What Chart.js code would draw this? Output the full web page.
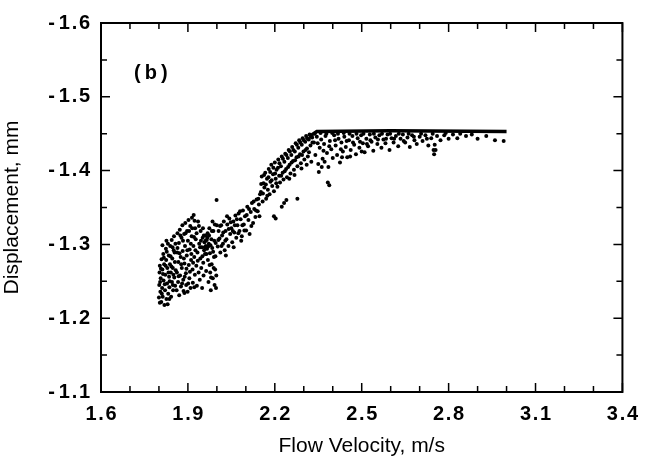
<!DOCTYPE html>
<html>
<head>
<meta charset="utf-8">
<script src="https://cdn.jsdelivr.net/npm/chart.js@4/dist/chart.umd.min.js"></script>
<style>
  body { margin: 0; background: #fff; }
</style>
</head>
<body>
<canvas id="chart" width="648" height="469"></canvas>
<script>
// tick values
const xMajor = [1.6, 1.9, 2.2, 2.5, 2.8, 3.1, 3.4];
const xMinor = [1.7, 1.8, 2.0, 2.1, 2.3, 2.4, 2.6, 2.7, 2.9, 3.0, 3.2, 3.3];
const yMajor = [-1.6, -1.5, -1.4, -1.3, -1.2, -1.1];
const yMinor = [-1.55, -1.45, -1.35, -1.25, -1.15];

// points: [velocity m/s, displacement mm]
const lobeA = [
  [1.800,-1.228],[1.801,-1.245],[1.802,-1.262],[1.803,-1.271],[1.805,-1.236],[1.806,-1.254],
  [1.808,-1.222],[1.809,-1.280],[1.811,-1.241],[1.812,-1.266],[1.813,-1.229],[1.815,-1.287],
  [1.816,-1.251],[1.818,-1.273],[1.819,-1.218],[1.821,-1.238],[1.822,-1.259],[1.824,-1.294],
  [1.825,-1.279],[1.826,-1.226],[1.828,-1.247],[1.829,-1.268],[1.831,-1.301],[1.832,-1.233],
  [1.834,-1.285],[1.835,-1.256],[1.836,-1.242],[1.838,-1.273],[1.839,-1.298],[1.841,-1.262],
  [1.842,-1.229],[1.844,-1.306],[1.845,-1.249],[1.846,-1.281],[1.848,-1.268],[1.849,-1.238],
  [1.851,-1.292],[1.852,-1.311],[1.853,-1.255],[1.855,-1.276],[1.856,-1.244],[1.857,-1.301],
  [1.804,-1.249],[1.807,-1.267],[1.803,-1.221],[1.810,-1.233],[1.814,-1.260],[1.817,-1.282],
  [1.820,-1.246],[1.823,-1.271],[1.827,-1.290],[1.830,-1.219],[1.833,-1.262],[1.837,-1.250],
  [1.840,-1.284],[1.843,-1.270],[1.847,-1.296],[1.850,-1.259],[1.854,-1.289],[1.858,-1.265],
  [1.812,-1.299],[1.826,-1.305],[1.836,-1.226],[1.848,-1.245]
];
const lobeB = [
  [1.861,-1.238],[1.862,-1.262],[1.863,-1.289],[1.864,-1.315],[1.866,-1.249],[1.867,-1.276],
  [1.869,-1.302],[1.870,-1.231],[1.872,-1.320],[1.873,-1.258],[1.875,-1.283],[1.876,-1.243],
  [1.878,-1.309],[1.879,-1.268],[1.881,-1.326],[1.882,-1.291],[1.884,-1.252],[1.885,-1.237],
  [1.887,-1.314],[1.888,-1.274],[1.890,-1.298],[1.891,-1.329],[1.893,-1.261],[1.894,-1.245],
  [1.896,-1.285],[1.897,-1.318],[1.899,-1.236],[1.900,-1.305],[1.902,-1.333],[1.903,-1.272],
  [1.905,-1.254],[1.906,-1.293],[1.908,-1.325],[1.909,-1.241],[1.911,-1.279],[1.913,-1.311],
  [1.914,-1.336],[1.916,-1.266],[1.917,-1.248],[1.919,-1.298],[1.920,-1.340],[1.922,-1.283],
  [1.924,-1.259],[1.925,-1.322],[1.927,-1.307],[1.929,-1.271],[1.931,-1.244],[1.933,-1.289],
  [1.935,-1.331],[1.937,-1.262],[1.939,-1.301],
  [1.864,-1.295],[1.868,-1.257],[1.871,-1.288],[1.874,-1.312],[1.877,-1.273],[1.880,-1.247],
  [1.883,-1.305],[1.886,-1.281],[1.889,-1.256],[1.892,-1.315],[1.895,-1.267],[1.898,-1.292],
  [1.901,-1.247],[1.904,-1.318],[1.907,-1.263],[1.910,-1.301],[1.912,-1.287],[1.915,-1.322],
  [1.918,-1.275],[1.921,-1.310],[1.923,-1.332],[1.926,-1.292],[1.930,-1.315],[1.934,-1.278],
  [1.938,-1.325],[1.922,-1.242],[1.888,-1.234]
];
const lobeC = [
  [1.941,-1.252],[1.943,-1.281],[1.944,-1.318],[1.946,-1.268],[1.948,-1.296],[1.949,-1.241],
  [1.951,-1.309],[1.953,-1.275],[1.954,-1.258],[1.956,-1.292],[1.957,-1.303],[1.959,-1.287],
  [1.960,-1.312],[1.962,-1.298],[1.963,-1.264],[1.965,-1.306],[1.966,-1.294],[1.968,-1.315],
  [1.969,-1.279],[1.971,-1.249],[1.972,-1.301],[1.974,-1.322],[1.976,-1.288],[1.977,-1.262],
  [1.979,-1.238],[1.981,-1.307],[1.982,-1.273],[1.984,-1.295],[1.986,-1.254],[1.988,-1.318],
  [1.990,-1.283],[1.992,-1.245],[1.994,-1.266],[1.996,-1.302],[1.998,-1.258],[2.000,-1.326],
  [1.999,-1.360],
  [1.942,-1.296],[1.945,-1.305],[1.950,-1.284],[1.952,-1.322],[1.955,-1.312],[1.958,-1.296],
  [1.961,-1.305],[1.964,-1.287],[1.967,-1.309],[1.970,-1.297],[1.973,-1.312],[1.975,-1.272],
  [1.978,-1.299],[1.980,-1.255],[1.983,-1.318],[1.987,-1.290],[1.989,-1.268],[1.991,-1.305],
  [1.995,-1.284],[1.997,-1.241],[1.993,-1.327],[1.985,-1.331]
];
const bandD = [
  [2.003,-1.297],[2.006,-1.318],[2.009,-1.308],[2.012,-1.289],[2.015,-1.326],[2.018,-1.312],
  [2.021,-1.301],[2.024,-1.331],[2.027,-1.292],[2.030,-1.318],[2.033,-1.307],[2.036,-1.327],
  [2.040,-1.298],[2.043,-1.335],[2.046,-1.314],[2.050,-1.322],[2.053,-1.303],[2.057,-1.331],
  [2.060,-1.316],[2.064,-1.339],[2.067,-1.309],[2.071,-1.326],[2.075,-1.342],[2.078,-1.318],
  [2.082,-1.334],[2.086,-1.311],[2.090,-1.346],[2.093,-1.327],[2.097,-1.338],[2.101,-1.319],
  [2.105,-1.351],[2.109,-1.333],[2.113,-1.314],[2.117,-1.344],[2.121,-1.356],[2.125,-1.329],
  [2.129,-1.348],[2.133,-1.337],[2.137,-1.361],[2.141,-1.345],[2.145,-1.354],[2.149,-1.368],
  [2.005,-1.306],[2.011,-1.325],[2.016,-1.298],[2.022,-1.316],[2.029,-1.305],[2.035,-1.338],
  [2.041,-1.321],[2.048,-1.330],[2.055,-1.318],[2.062,-1.326],[2.069,-1.334],[2.074,-1.315],
  [2.080,-1.345],[2.088,-1.326],[2.095,-1.319],[2.103,-1.340],[2.111,-1.348],[2.119,-1.325],
  [2.127,-1.358],[2.135,-1.346],[2.143,-1.362],[2.147,-1.338],[2.031,-1.285],[2.058,-1.296],
  [2.084,-1.305]
];
const bandE = [
  [2.152,-1.371],[2.155,-1.392],[2.158,-1.358],[2.161,-1.383],[2.164,-1.377],[2.167,-1.397],
  [2.170,-1.362],[2.173,-1.389],[2.176,-1.374],[2.179,-1.402],[2.182,-1.368],[2.185,-1.385],
  [2.188,-1.408],[2.191,-1.379],[2.194,-1.395],[2.197,-1.372],[2.200,-1.411],[2.203,-1.389],
  [2.206,-1.401],[2.209,-1.378],[2.212,-1.415],[2.215,-1.393],[2.218,-1.384],[2.221,-1.406],
  [2.224,-1.419],[2.227,-1.397],[2.230,-1.388],[2.233,-1.412],[2.236,-1.423],[2.239,-1.402],
  [2.242,-1.391],[2.245,-1.417],[2.248,-1.428],[2.251,-1.408],[2.254,-1.396],[2.257,-1.421],
  [2.260,-1.432],[2.263,-1.413],[2.266,-1.401],[2.269,-1.426],[2.272,-1.437],[2.275,-1.418],
  [2.278,-1.406],[2.281,-1.431],[2.284,-1.441],[2.287,-1.422],[2.290,-1.410],[2.293,-1.435],
  [2.296,-1.444],[2.299,-1.426],[2.302,-1.415],[2.305,-1.439],[2.308,-1.447],[2.311,-1.430],
  [2.314,-1.419],[2.317,-1.442],[2.320,-1.449],[2.323,-1.434],[2.326,-1.412],[2.329,-1.445],
  [2.153,-1.382],[2.159,-1.369],[2.163,-1.394],[2.169,-1.381],[2.174,-1.366],[2.178,-1.391],
  [2.184,-1.398],[2.189,-1.387],[2.195,-1.404],[2.201,-1.396],[2.205,-1.383],[2.211,-1.404],
  [2.216,-1.410],[2.222,-1.393],[2.228,-1.416],[2.234,-1.399],[2.240,-1.421],[2.246,-1.405],
  [2.252,-1.426],[2.258,-1.411],[2.264,-1.428],[2.270,-1.414],[2.276,-1.435],[2.282,-1.419],
  [2.288,-1.438],[2.294,-1.421],[2.300,-1.441],[2.306,-1.428],[2.312,-1.444],[2.318,-1.425],
  [2.324,-1.446],[2.330,-1.438],[2.250,-1.389],[2.268,-1.394],[2.292,-1.403],[2.310,-1.408]
];
const strays = [
  [2.197,-1.338],[2.203,-1.335],[2.224,-1.351],[2.232,-1.356],[2.240,-1.360],[2.278,-1.362],
  [2.383,-1.384],[2.388,-1.380]
];
const plateau = [
  [2.335,-1.438],[2.340,-1.421],[2.345,-1.446],[2.350,-1.409],[2.355,-1.431],[2.360,-1.442],
  [2.365,-1.416],[2.370,-1.436],[2.375,-1.447],[2.380,-1.424],[2.385,-1.405],[2.390,-1.440],
  [2.395,-1.429],[2.400,-1.417],[2.405,-1.448],[2.410,-1.434],[2.415,-1.421],[2.420,-1.443],
  [2.425,-1.411],[2.430,-1.438],[2.435,-1.426],[2.440,-1.446],[2.445,-1.432],[2.450,-1.418],
  [2.456,-1.441],[2.462,-1.428],[2.468,-1.447],[2.474,-1.435],[2.480,-1.422],[2.486,-1.444],
  [2.492,-1.431],[2.498,-1.448],[2.504,-1.437],[2.510,-1.425],[2.516,-1.443],[2.522,-1.433],
  [2.528,-1.449],[2.534,-1.439],[2.540,-1.427],[2.547,-1.445],[2.554,-1.436],[2.561,-1.448],
  [2.568,-1.431],[2.575,-1.442],[2.582,-1.437],[2.589,-1.449],[2.596,-1.428],[2.603,-1.444],
  [2.610,-1.438],[2.618,-1.447],[2.626,-1.433],[2.634,-1.443],[2.642,-1.449],[2.650,-1.438],
  [2.658,-1.445],[2.666,-1.432],[2.674,-1.448],[2.682,-1.441],[2.690,-1.436],[2.700,-1.446],
  [2.710,-1.440],[2.720,-1.448],[2.730,-1.434],[2.740,-1.444],[2.748,-1.428],[2.750,-1.422],
  [2.752,-1.435],[2.760,-1.447],[2.772,-1.441],[2.785,-1.448],[2.800,-1.443],[2.815,-1.449],
  [2.830,-1.444],[2.860,-1.447],[2.900,-1.443],[2.930,-1.447],[2.960,-1.441],[2.990,-1.440],
  [2.338,-1.450],[2.348,-1.437],[2.358,-1.451],[2.368,-1.427],[2.378,-1.450],[2.388,-1.433],
  [2.398,-1.451],[2.408,-1.441],[2.418,-1.450],[2.428,-1.429],[2.438,-1.451],[2.448,-1.440],
  [2.458,-1.450],[2.470,-1.438],[2.482,-1.450],[2.494,-1.439],[2.506,-1.450],[2.518,-1.436],
  [2.530,-1.441],[2.542,-1.450],[2.556,-1.442],[2.570,-1.450],[2.584,-1.443],[2.598,-1.450],
  [2.612,-1.443],[2.628,-1.450],[2.645,-1.440],[2.662,-1.450],[2.680,-1.446],[2.705,-1.450],
  [2.725,-1.443],[2.745,-1.450],[2.755,-1.428],[2.790,-1.451],[2.840,-1.450],[2.880,-1.449],
  [2.352,-1.398],[2.362,-1.405],[2.372,-1.412],[2.432,-1.418],[2.460,-1.419],[2.500,-1.426]
];
// the upper limit the response saturates at
const ceiling = [[2.322,-1.447],[2.345,-1.453],[2.600,-1.454],[3.000,-1.453]];

const label = { text: '(\u2009b\u2009)', v: 1.772, d: -1.531 };

function toXY(pts) {
  return pts.map(p => ({ x: p[0], y: p[1] }));
}

const dotSet = (pts) => ({
  data: toXY(pts),
  pointRadius: 2,
  pointBackgroundColor: '#000',
  pointBorderWidth: 0,
  showLine: false
});

const frameTicks = {
  id: 'frameTicks',
  afterDraw(chart) {
    const { ctx, chartArea: a, scales: { x, y } } = chart;
    ctx.save();
    ctx.strokeStyle = '#000';
    ctx.lineWidth = 2;
    ctx.strokeRect(a.left, a.top, a.right - a.left, a.bottom - a.top);
    ctx.lineWidth = 1.5;
    ctx.beginPath();
    const xt = (v, len) => {
      const px = x.getPixelForValue(v);
      ctx.moveTo(px, a.bottom); ctx.lineTo(px, a.bottom - len);
      ctx.moveTo(px, a.top); ctx.lineTo(px, a.top + len);
    };
    const yt = (v, len) => {
      const py = y.getPixelForValue(v);
      ctx.moveTo(a.left, py); ctx.lineTo(a.left + len, py);
      ctx.moveTo(a.right, py); ctx.lineTo(a.right - len, py);
    };
    xMajor.forEach(v => xt(v, 9));
    xMinor.forEach(v => xt(v, 6));
    yMajor.forEach(v => yt(v, 9));
    yMinor.forEach(v => yt(v, 6));
    ctx.stroke();

    ctx.fillStyle = '#000';
    ctx.font = 'bold 20px "Liberation Sans", Arial, sans-serif';
    ctx.textAlign = 'center';
    ctx.textBaseline = 'middle';
    ctx.fillText(label.text, x.getPixelForValue(label.v), y.getPixelForValue(label.d));
    ctx.restore();
  }
};

const font = { family: '"Liberation Sans", Arial, sans-serif', size: 20 };
const tickFont = { ...font, weight: 'bold' };

new Chart(document.getElementById('chart'), {
  type: 'scatter',
  data: {
    datasets: [
      dotSet(lobeA), dotSet(lobeB), dotSet(lobeC), dotSet(bandD),
      dotSet(bandE), dotSet(strays), dotSet(plateau),
      {
        type: 'line',
        data: toXY(ceiling),
        borderColor: '#000',
        borderWidth: 3.5,
        pointRadius: 0,
        tension: 0
      }
    ]
  },
  options: {
    responsive: false,
    animation: false,
    layout: { padding: { top: 10, right: 25, left: 0, bottom: 0 } },
    plugins: { legend: { display: false }, tooltip: { enabled: false } },
    scales: {
      x: {
        type: 'linear',
        min: 1.6, max: 3.4,
        afterBuildTicks: s => { s.ticks = xMajor.map(v => ({ value: v })); },
        afterFit: s => { s.height = 77; },
        grid: { display: false, drawTicks: false },
        border: { display: false },
        ticks: {
          color: '#000', font: tickFont, padding: 10,
          callback: v => v.toFixed(1).replace('.', '\u200A.\u200A')
        },
        title: {
          display: true, text: 'Flow Velocity, m/s', color: '#000',
          font: { ...font, size: 21 }, padding: { top: 0, bottom: 10 }
        }
      },
      y: {
        type: 'linear',
        reverse: true,
        min: -1.6, max: -1.1,
        afterBuildTicks: s => { s.ticks = yMajor.map(v => ({ value: v })); },
        afterFit: s => { s.width = 101; },
        grid: { display: false, drawTicks: false },
        border: { display: false },
        ticks: {
          color: '#000', font: tickFont, padding: 11,
          callback: v => '-\u2009' + Math.abs(v).toFixed(1).replace('.', '\u200A.\u200A')
        },
        title: {
          display: true, text: 'Displacement, mm', color: '#000',
          font: { ...font, size: 21 }, padding: { top: 0, bottom: 4 }
        }
      }
    }
  },
  plugins: [frameTicks]
});
</script>
</body>
</html>
